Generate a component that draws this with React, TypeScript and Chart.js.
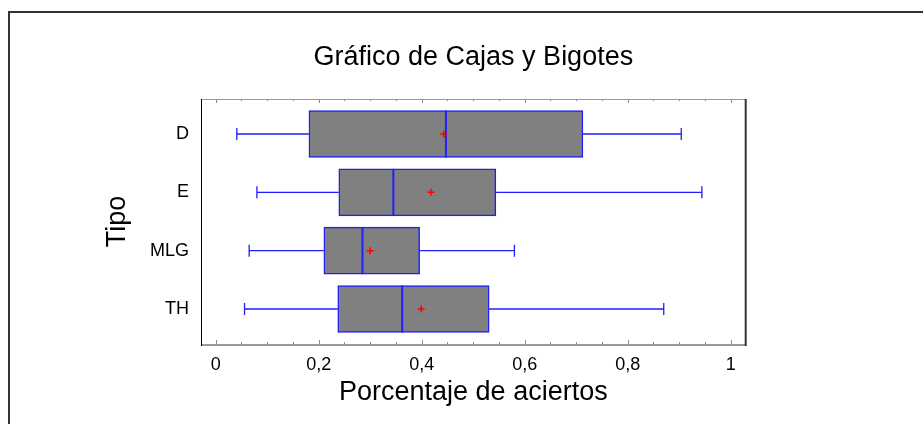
import { useEffect, useRef } from 'react';
import { Chart, registerables } from 'chart.js';

Chart.register(...registerables);

const categories = ['D', 'E', 'MLG', 'TH'];
const categoryPositions = [4, 3, 2, 1];
const whiskerMin = [0.041, 0.080, 0.065, 0.056];
const q1 = [0.181, 0.239, 0.210, 0.237];
const median = [0.447, 0.345, 0.285, 0.362];
const mean = [0.443, 0.418, 0.300, 0.399];
const q3 = [0.713, 0.544, 0.396, 0.531];
const whiskerMax = [0.904, 0.944, 0.580, 0.870];

const xTickValues = [0, 0.2, 0.4, 0.6, 0.8, 1];
const xTickLabels = ['0', '0,2', '0,4', '0,6', '0,8', '1'];
const minorTickValues = [0, 0.05, 0.1, 0.15, 0.2, 0.25, 0.3, 0.35, 0.4, 0.45, 0.5, 0.55, 0.6, 0.65, 0.7, 0.75, 0.8, 0.85, 0.9, 0.95, 1];

const FONT = "'Liberation Sans', Arial, sans-serif";
const BOX_THICKNESS = 47;
const BLUE = '#1f1fff';

const boxPlugin = {
  id: 'boxExtras',
  beforeDatasetsDraw(chart: any) {
    const { ctx, scales } = chart;
    const x = scales.x;
    const y = scales.y;
    ctx.save();
    ctx.strokeStyle = BLUE;
    ctx.lineWidth = 1.3;
    categories.forEach((_, i) => {
      const py = y.getPixelForValue(categoryPositions[i]);
      const xmin = x.getPixelForValue(whiskerMin[i]);
      const xq1 = x.getPixelForValue(q1[i]);
      const xq3 = x.getPixelForValue(q3[i]);
      const xmax = x.getPixelForValue(whiskerMax[i]);
      ctx.beginPath();
      ctx.moveTo(xmin, py);
      ctx.lineTo(xq1, py);
      ctx.moveTo(xq3, py);
      ctx.lineTo(xmax, py);
      ctx.moveTo(xmin, py - 6);
      ctx.lineTo(xmin, py + 6);
      ctx.moveTo(xmax, py - 6);
      ctx.lineTo(xmax, py + 6);
      ctx.stroke();
    });
    ctx.restore();
  },
  afterDatasetDraw(chart: any, args: any) {
    if (args.index !== 0) return;
    const { ctx, scales } = chart;
    const x = scales.x;
    const y = scales.y;
    ctx.save();
    ctx.strokeStyle = BLUE;
    ctx.lineWidth = 2;
    categories.forEach((_, i) => {
      const py = y.getPixelForValue(categoryPositions[i]);
      const xm = x.getPixelForValue(median[i]);
      ctx.beginPath();
      ctx.moveTo(xm, py - BOX_THICKNESS / 2);
      ctx.lineTo(xm, py + BOX_THICKNESS / 2);
      ctx.stroke();
    });
    ctx.restore();
  },
  afterDraw(chart: any) {
    const { ctx, chartArea, scales } = chart;
    const x = scales.x;
    const { left, right, top, bottom } = chartArea;
    ctx.save();
    ctx.strokeStyle = '#8a8a8a';
    ctx.lineWidth = 1;
    minorTickValues.forEach((v, i) => {
      const px = Math.round(x.getPixelForValue(v)) + 0.5;
      const len = i % 4 === 0 ? 4 : 2;
      ctx.beginPath();
      ctx.moveTo(px, bottom);
      ctx.lineTo(px, bottom - len);
      ctx.moveTo(px, top);
      ctx.lineTo(px, top + len);
      ctx.stroke();
    });
    ctx.strokeStyle = '#9a9a9a';
    ctx.lineWidth = 1;
    ctx.beginPath();
    ctx.moveTo(left, top + 0.5);
    ctx.lineTo(right, top + 0.5);
    ctx.stroke();
    ctx.lineWidth = 2;
    ctx.beginPath();
    ctx.moveTo(left, bottom + 1);
    ctx.lineTo(right, bottom + 1);
    ctx.stroke();
    ctx.strokeStyle = '#000000';
    ctx.lineWidth = 1;
    ctx.beginPath();
    ctx.moveTo(Math.round(left) + 0.5, top);
    ctx.lineTo(Math.round(left) + 0.5, bottom + 2);
    ctx.stroke();
    ctx.strokeStyle = '#333333';
    ctx.lineWidth = 2;
    ctx.beginPath();
    ctx.moveTo(right, top);
    ctx.lineTo(right, bottom + 2);
    ctx.stroke();
    ctx.restore();
  },
};

export default function App() {
  const canvasRef = useRef<HTMLCanvasElement | null>(null);

  useEffect(() => {
    if (!canvasRef.current) return;
    const chart = new Chart(canvasRef.current, {
      type: 'bar',
      data: {
        datasets: [
          {
            type: 'bar',
            indexAxis: 'y',
            order: 2,
            data: categoryPositions.map((p, i) => ({ x: [q1[i], q3[i]], y: p })) as any,
            backgroundColor: '#808080',
            borderColor: BLUE,
            borderWidth: 1.5,
            borderSkipped: false,
            barThickness: BOX_THICKNESS,
            xAxisID: 'x',
            yAxisID: 'y',
          } as any,
          {
            type: 'scatter',
            order: 1,
            data: categoryPositions.map((p, i) => ({ x: mean[i], y: p })),
            pointStyle: 'cross',
            pointRadius: 3.5,
            borderColor: '#ff0000',
            backgroundColor: '#ff0000',
            borderWidth: 1.5,
            xAxisID: 'x',
            yAxisID: 'y',
          } as any,
        ],
      },
      options: {
        responsive: false,
        animation: false,
        events: [],
        layout: { padding: { left: 0, right: 177.3, top: 0, bottom: 15.2 } },
        plugins: {
          legend: { display: false },
          tooltip: { enabled: false },
          title: {
            display: true,
            text: 'Gráfico de Cajas y Bigotes',
            color: '#000',
            fullSize: false,
            font: { family: FONT, size: 27, weight: 'normal' },
            padding: { top: 28.8, bottom: 24.8 },
          },
        },
        scales: {
          x: {
            type: 'linear',
            axis: 'x',
            position: 'bottom',
            offset: false,
            min: -0.02854,
            max: 1.02913,
            grid: { display: false, drawTicks: false, offset: false },
            border: { display: false },
            afterBuildTicks: (scale: any) => {
              scale.ticks = xTickValues.map((v) => ({ value: v }));
            },
            afterFit: (scale: any) => {
              scale.height = 64.8;
            },
            ticks: {
              autoSkip: false,
              maxRotation: 0,
              padding: 10,
              color: '#000',
              font: { family: FONT, size: 18 },
              callback: (_v: any, index: number) => xTickLabels[index],
            },
            title: {
              display: true,
              text: 'Porcentaje de aciertos',
              color: '#000',
              font: { family: FONT, size: 27 },
              padding: { top: 6.8, bottom: 0 },
            },
          },
          y: {
            type: 'linear',
            axis: 'y',
            position: 'left',
            offset: false,
            min: 0.4,
            max: 4.6,
            grid: { display: false, drawTicks: false, offset: false },
            border: { display: false },
            afterBuildTicks: (scale: any) => {
              scale.ticks = categoryPositions.map((v) => ({ value: v }));
            },
            afterFit: (scale: any) => {
              scale.width = 191;
            },
            ticks: {
              autoSkip: false,
              padding: 12,
              color: '#000',
              font: { family: FONT, size: 18 },
              callback: (v: any) => categories[categoryPositions.indexOf(Number(v))],
            },
            title: {
              display: true,
              text: 'Tipo',
              color: '#000',
              font: { family: FONT, size: 27 },
              padding: { top: 91.8, bottom: 0 },
            },
          },
        },
      } as any,
      plugins: [boxPlugin],
    });
    return () => chart.destroy();
  }, []);

  return (
    <div
      style={{
        position: 'fixed',
        left: 8,
        top: 11,
        width: 913,
        height: 411,
        borderTop: '2px solid #333',
        borderLeft: '2px solid #333',
        background: '#fff',
      }}
    >
      <canvas ref={canvasRef} width={913} height={411} style={{ display: 'block', width: 913, height: 411 }} />
    </div>
  );
}
